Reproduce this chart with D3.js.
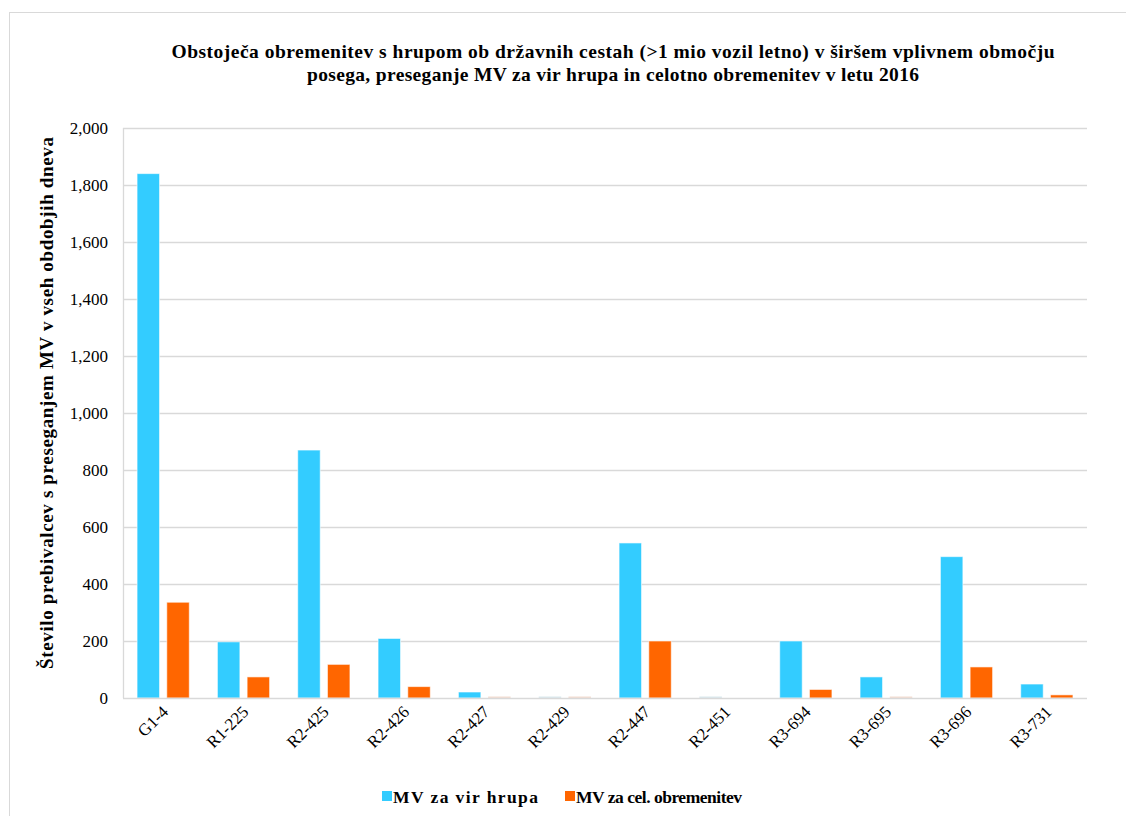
<!DOCTYPE html>
<html><head><meta charset="utf-8">
<script src="https://cdn.jsdelivr.net/npm/d3@7"></script>
<style>body{margin:0;background:#fff}svg{display:block}</style>
</head><body><svg id="c" width="1126" height="816"></svg>
<script>
const categories = ["G1-4","R1-225","R2-425","R2-426","R2-427","R2-429","R2-447","R2-451","R3-694","R3-695","R3-696","R3-731"];
const vir = [1840,197,870,209,21,0,544,0,200,74,496,49];
const cel = [336,74,118,40,0,0,200,null,30,0,109,11];
const seriesNames = ["MV za vir hrupa","MV za cel. obremenitev"];
const colors = ["#33CCFF","#FF6600"];
const yTicks = [0,200,400,600,800,1000,1200,1400,1600,1800,2000];
const titleLines = ["Obstoječa obremenitev s hrupom ob državnih cestah (>1 mio vozil letno) v širšem vplivnem območju","posega, preseganje MV za vir hrupa in celotno obremenitev v letu 2016"];
const yLabel = "Število prebivalcev s preseganjem MV v vseh obdobjih dneva";
const FF = '"Liberation Serif","Times New Roman",serif';

const svg = d3.select("#c");
svg.append("rect").attr("x",9.5).attr("y",12.5).attr("width",1140).attr("height",830).attr("fill","#fff").attr("stroke","#d9d9d9");

const L=123,R=1087,T=128,B=698;
const x = d3.scaleBand().domain(categories).range([L,R]);
const y = d3.scaleLinear().domain([0,2000]).range([B,T]);
const bw = x.bandwidth()*0.28, gap = x.bandwidth()*0.09;

const g = svg.append("g");
g.selectAll(".grid").data(yTicks.slice(1)).join("line")
 .attr("x1",L).attr("x2",R).attr("y1",d=>Math.round(y(d))+0.5).attr("y2",d=>Math.round(y(d))+0.5)
 .attr("stroke","#d9d9d9").attr("stroke-width",1.3);
g.append("line").attr("x1",L+0.5).attr("x2",L+0.5).attr("y1",T).attr("y2",B).attr("stroke","#d9d9d9").attr("stroke-width",1.3);

const yAxis = d3.axisLeft(y).tickValues(yTicks).tickFormat(d3.format(",")).tickSize(0).tickPadding(15);
const ya = svg.append("g").attr("transform",`translate(${L},0)`).call(yAxis);
ya.select(".domain").remove();
ya.selectAll("text").attr("font-size",17).attr("fill","#000").style("font-family",FF);

const data = [vir,cel];
data.forEach((arr,si)=>{
  const off = si===0 ? x.bandwidth()/2 - gap/2 - bw : x.bandwidth()/2 + gap/2;
  const items = categories.map((c,i)=>({c,v:arr[i]})).filter(d=>d.v!==null);
  svg.append("g").selectAll("rect").data(items).join("rect")
   .attr("x",d=>x(d.c)+off).attr("width",bw)
   .attr("y",d=>d.v>0?y(d.v):B-1.5).attr("height",d=>d.v>0?B-y(d.v):1.5)
   .attr("fill",d=>d.v>0?colors[si]:(si===0?"#dbe9ee":"#f3ddd2"))
   .attr("stroke",d=>d.v>0?"rgba(255,255,255,0.6)":"none").attr("stroke-width",1);
});
svg.append("line").attr("x1",L).attr("x2",R).attr("y1",B+0.5).attr("y2",B+0.5).attr("stroke","#d9d9d9").attr("stroke-width",1.5);

const xAxis = d3.axisBottom(x).tickSize(0).tickPadding(0);
const xa = svg.append("g").attr("transform",`translate(0,${B})`).call(xAxis);
xa.select(".domain").remove();
xa.selectAll("text").attr("font-size",17).attr("fill","#000").style("font-family",FF)
  .attr("text-anchor","end").attr("dy",0).attr("y",0)
  .attr("transform","translate(6,15) rotate(-45)");

const tt = svg.append("text").attr("text-anchor","middle")
  .attr("font-size",19.5).attr("font-weight","bold").style("font-family",FF);
const tw=[883,612];
titleLines.forEach((t,i)=>tt.append("tspan").attr("x",613).attr("y",58+i*23)
  .attr("textLength",tw[i]).attr("lengthAdjust","spacing").text(t));

svg.append("text").attr("transform","translate(53,403) rotate(-90)").attr("text-anchor","middle")
  .attr("font-size",19).attr("font-weight","bold").style("font-family",FF)
  .attr("textLength",532).attr("lengthAdjust","spacing").text(yLabel);

const lg = svg.append("g");
const lx=[382,565], lw=[145,166];
seriesNames.forEach((n,i)=>{
  lg.append("rect").attr("x",lx[i]).attr("y",791).attr("width",10).attr("height",10).attr("fill",colors[i]);
  lg.append("text").attr("x",lx[i]+11).attr("y",803).attr("font-size",17.5).attr("font-weight","bold")
   .style("font-family",FF).attr("textLength",lw[i]).attr("lengthAdjust","spacing").text(n);
});
</script></body></html>
